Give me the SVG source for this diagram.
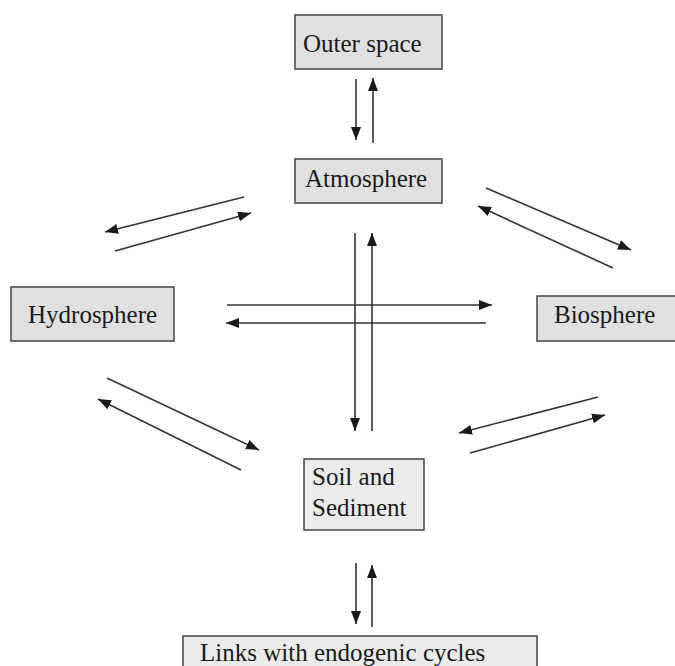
<svg xmlns="http://www.w3.org/2000/svg" width="675" height="666" viewBox="0 0 675 666">
<defs>
<marker id="ah" markerUnits="userSpaceOnUse" markerWidth="13" markerHeight="10" refX="13" refY="5" orient="auto">
<path d="M0,0 L13,5 L0,10 z" fill="#1a1a1a"/>
</marker>
<style>
.box{fill:#e0e0e0;stroke:#444;stroke-width:1.5}
.box2{fill:#ebebeb;stroke:#444;stroke-width:1.5}
.lbl{font-family:"Liberation Serif","Times New Roman",serif;font-size:25px;fill:#1a1a1a}
.c line{stroke:#333;stroke-width:1.6;fill:none}
.a{marker-end:url(#ah)}
</style>
</defs>
<rect width="675" height="666" fill="#fff"/>
<g id="outer-space"><rect class="box" x="295" y="15" width="147" height="54"/><text class="lbl" x="303" y="52">Outer space</text></g>
<g id="atmosphere"><rect class="box" x="295" y="159" width="147" height="44"/><text class="lbl" x="305" y="187">Atmosphere</text></g>
<g id="hydrosphere"><rect class="box" x="11" y="287" width="163" height="54"/><text class="lbl" x="28" y="323">Hydrosphere</text></g>
<g id="biosphere"><rect class="box" x="537" y="296" width="145" height="45"/><text class="lbl" x="554" y="323">Biosphere</text></g>
<g id="soil"><rect class="box2" x="304" y="459" width="120" height="71"/><text class="lbl" x="312" y="485">Soil and</text><text class="lbl" x="312" y="516">Sediment</text></g>
<g id="links"><rect class="box2" x="183" y="636" width="354" height="40"/><text class="lbl" x="200" y="661">Links with endogenic cycles</text></g>
<g id="connectors" class="c">
<line class="a" x1="356" y1="79" x2="356" y2="140"/>
<line class="a" x1="373" y1="143" x2="373" y2="78"/>
<line class="a" x1="244" y1="197" x2="105" y2="232"/>
<line class="a" x1="115" y1="251" x2="251" y2="213"/>
<line class="a" x1="486" y1="188" x2="631" y2="250"/>
<line class="a" x1="613" y1="268" x2="478" y2="206"/>
<line class="a" x1="227" y1="305" x2="492" y2="305"/>
<line class="a" x1="486" y1="323" x2="226" y2="323"/>
<line class="a" x1="355" y1="233" x2="355" y2="431"/>
<line class="a" x1="372" y1="431" x2="372" y2="233"/>
<line class="a" x1="107" y1="378" x2="259" y2="450"/>
<line class="a" x1="241" y1="470" x2="98" y2="399"/>
<line class="a" x1="598" y1="397" x2="459" y2="433"/>
<line class="a" x1="470" y1="453" x2="605" y2="415"/>
<line class="a" x1="356" y1="563" x2="356" y2="624"/>
<line class="a" x1="372" y1="627" x2="372" y2="565"/>
</g>
</svg>
